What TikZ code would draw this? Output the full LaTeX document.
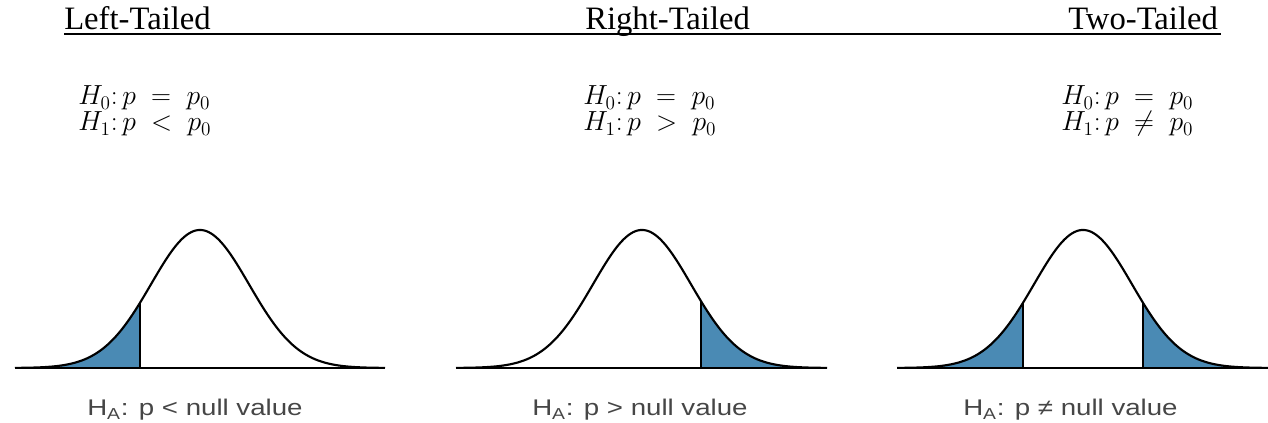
\documentclass[tikz,border=0pt]{standalone}
\usepackage{fontspec}
\setmainfont{Liberation Serif}
\newfontfamily\labelfont{Liberation Sans}
\definecolor{tailblue}{RGB}{74,138,180}
\definecolor{labelgray}{RGB}{70,70,70}
\tikzset{
  header/.style={anchor=base west,inner sep=0pt,font=\fontsize{24.5}{28}\selectfont},
  hyp/.style={anchor=base west,inner sep=0pt,font=\fontsize{22.5}{26}\selectfont},
  halabel/.style={anchor=base west,inner sep=0pt,text=labelgray,font=\labelfont\fontsize{17}{20}\selectfont},
  bell/.style={line width=1.6pt,line join=round},
  axisline/.style={line width=2.1pt},
  cutline/.style={line width=1.6pt},
  tail/.style={fill=tailblue}
}
\newcommand\bellat[1]{368-138*exp(-((#1)/49)^2/2)}
\newcommand\hypline[2]{$H_{#1}{:}\,p \;#2\; p_0$}
\begin{document}
\begin{tikzpicture}[x=0.75pt,y=-0.75pt]
\useasboundingbox (0,0) rectangle (1268,423);
% headers
\node[header] (hl) at (64,30) {Left-Tailed};
\node[header] (hr) at (585,30) {Right-Tailed};
\node[header] (ht) at (1068,30) {Two-Tailed};
\coordinate (ulA) at (64,34);
\coordinate (ulB) at (1221,34);
\draw[line width=1.5pt] (ulA) -- (ulB);
% hypotheses
\node[hyp] (l0) at (78,105) {\hypline{0}{=}};
\node[hyp] (l1) at (78,131) {\hypline{1}{<}};
\node[hyp] (m0) at (583,105) {\hypline{0}{=}};
\node[hyp] (m1) at (583,131) {\hypline{1}{>}};
\node[hyp] (r0) at (1061,105) {\hypline{0}{=}};
\node[hyp] (r1) at (1061,131) {\hypline{1}{\neq}};
% left-tailed curve
\begin{scope}[shift={(200,0)}]
  \fill[tail] plot[domain=-185:-60,samples=80] (\x,{\bellat{\x}}) -- (-60,368) -- cycle;
  \draw[cutline] (-60,368) -- (-60,{\bellat{-60}});
  \draw[axisline] (-185,368) -- (185,368);
  \draw[bell] plot[domain=-185:185,samples=200] (\x,{\bellat{\x}});
\end{scope}
% right-tailed curve
\begin{scope}[shift={(642,0)}]
  \fill[tail] plot[domain=59:185,samples=80] (\x,{\bellat{\x}}) -- (59,368) -- cycle;
  \draw[cutline] (59,368) -- (59,{\bellat{59}});
  \draw[axisline] (-186,368) -- (185,368);
  \draw[bell] plot[domain=-186:185,samples=200] (\x,{\bellat{\x}});
\end{scope}
% two-tailed curve
\begin{scope}[shift={(1083,0)}]
  \fill[tail] plot[domain=-186:-60,samples=80] (\x,{\bellat{\x}}) -- (-60,368) -- cycle;
  \fill[tail] plot[domain=60:185,samples=80] (\x,{\bellat{\x}}) -- (60,368) -- cycle;
  \draw[cutline] (-60,368) -- (-60,{\bellat{-60}});
  \draw[cutline] (60,368) -- (60,{\bellat{60}});
  \draw[axisline] (-186,368) -- (185,368);
  \draw[bell] plot[domain=-186:185,samples=200] (\x,{\bellat{\x}});
\end{scope}
% alternative labels
\node[halabel] (la) at (87,416) {\scalebox{1.22}[1]{H\textsubscript{A}: p < null value}};
\node[halabel] (ma) at (532,416) {\scalebox{1.22}[1]{H\textsubscript{A}: p > null value}};
\node[halabel] (ra) at (963,416) {\scalebox{1.22}[1]{H\textsubscript{A}: p ≠ null value}};
\end{tikzpicture}
\end{document}
